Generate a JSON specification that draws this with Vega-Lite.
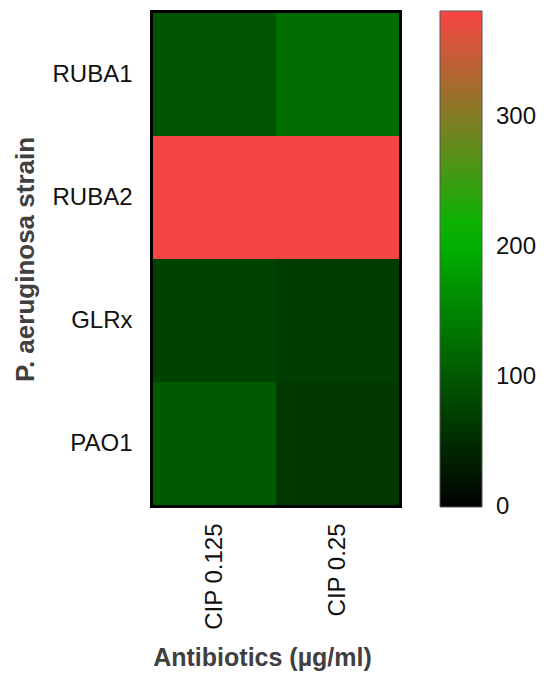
{
  "$schema": "https://vega.github.io/schema/vega-lite/v6.json",
  "width": 246,
  "height": 492,
  "autosize": {"type": "none"},
  "padding": {"left": 153, "top": 13, "right": 151, "bottom": 179},
  "background": "white",
  "config": {
    "font": "Liberation Sans",
    "view": {"stroke": "black", "strokeWidth": 6}
  },
  "data": {
    "values": [
      {"strain": "RUBA1", "antibiotic": "CIP 0.125", "value": 97},
      {"strain": "RUBA1", "antibiotic": "CIP 0.25", "value": 124},
      {"strain": "RUBA2", "antibiotic": "CIP 0.125", "value": 380},
      {"strain": "RUBA2", "antibiotic": "CIP 0.25", "value": 380},
      {"strain": "GLRx", "antibiotic": "CIP 0.125", "value": 75},
      {"strain": "GLRx", "antibiotic": "CIP 0.25", "value": 70},
      {"strain": "PAO1", "antibiotic": "CIP 0.125", "value": 103},
      {"strain": "PAO1", "antibiotic": "CIP 0.25", "value": 64}
    ]
  },
  "mark": {"type": "rect"},
  "encoding": {
    "x": {
      "field": "antibiotic", "type": "nominal",
      "sort": ["CIP 0.125", "CIP 0.25"],
      "scale": {"paddingInner": 0, "paddingOuter": 0},
      "axis": {
        "title": "Antibiotics (µg/ml)",
        "domain": false, "ticks": false,
        "labelAngle": -90, "labelAlign": "right", "labelBaseline": "middle",
        "labelPadding": 18, "labelFontSize": 24, "labelColor": "#111",
        "titleFontSize": 25, "titleFontWeight": "bold", "titleColor": "#404040",
        "titleBaseline": "middle", "titleY": 152, "titleX": 109
      }
    },
    "y": {
      "field": "strain", "type": "nominal",
      "sort": ["RUBA1", "RUBA2", "GLRx", "PAO1"],
      "scale": {"paddingInner": 0, "paddingOuter": 0},
      "axis": {
        "title": "P. aeruginosa strain",
        "domain": false, "ticks": false,
        "labelPadding": 21, "labelFontSize": 24, "labelColor": "#111",
        "titleFontSize": 26, "titleFontWeight": "bold", "titleColor": "#404040",
        "titleAngle": -90, "titleBaseline": "middle", "titleX": -128, "titleY": 246
      }
    },
    "color": {
      "field": "value", "type": "quantitative",
      "scale": {
        "domain": [0, 210, 382],
        "range": ["#000000", "#00b800", "#f94545"],
        "interpolate": "rgb"
      },
      "legend": {
        "title": null,
        "orient": "none", "legendX": 287, "legendY": -2,
        "direction": "vertical",
        "gradientLength": 496, "gradientThickness": 42,
        "gradientStrokeColor": "#555", "gradientStrokeWidth": 1,
        "values": [0, 100, 200, 300],
        "labelFontSize": 24, "labelColor": "#111", "labelOffset": 14,
        "labelBaseline": "middle", "labelOverlap": false, "padding": 0,
        "encode": {"labels": {"update": {"baseline": {"value": "middle"}}}}
      }
    }
  }
}
